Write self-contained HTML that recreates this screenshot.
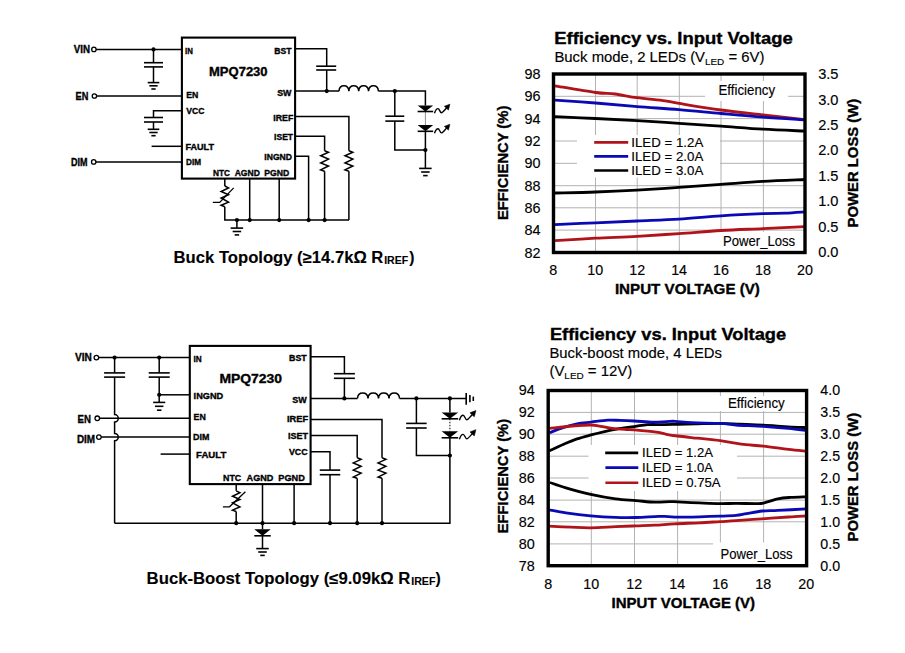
<!DOCTYPE html>
<html><head><meta charset="utf-8"><style>
html,body{margin:0;padding:0;background:#fff;}
svg{display:block;font-family:"Liberation Sans",sans-serif;}
</style></head><body>
<svg width="905" height="653" viewBox="0 0 905 653">
<rect x="0" y="0" width="905" height="653" fill="#fff"/>
<g id="sch1">
<rect x="181.9" y="37.6" width="113.2" height="141.0" fill="none" stroke="#000" stroke-width="2.1"/>
<text x="73.80" y="52.80" font-size="10.4" font-weight="bold" text-anchor="start" fill="#000" textLength="16.30" lengthAdjust="spacingAndGlyphs" stroke="#000" stroke-width="0.35">VIN</text>
<circle cx="93.90" cy="49.40" r="2.2" fill="#fff" stroke="#000" stroke-width="1.3"/>
<polyline points="96.10,49.40 181.90,49.40" fill="none" stroke="#000" stroke-width="1.5"/>
<circle cx="153.50" cy="49.40" r="2.1" fill="#000"/>
<polyline points="153.50,49.40 153.50,62.70" fill="none" stroke="#000" stroke-width="1.5"/>
<polyline points="144.00,62.70 163.00,62.70" fill="none" stroke="#000" stroke-width="1.6"/>
<polyline points="144.00,66.90 163.00,66.90" fill="none" stroke="#000" stroke-width="1.6"/>
<polyline points="153.50,66.90 153.50,82.60" fill="none" stroke="#000" stroke-width="1.5"/>
<polyline points="147.70,82.60 159.30,82.60" fill="none" stroke="#000" stroke-width="1.6"/>
<polyline points="149.35,85.80 157.65,85.80" fill="none" stroke="#000" stroke-width="1.6"/>
<polyline points="151.35,89.00 155.65,89.00" fill="none" stroke="#000" stroke-width="1.6"/>
<text x="75.50" y="99.60" font-size="10.4" font-weight="bold" text-anchor="start" fill="#000" textLength="12.80" lengthAdjust="spacingAndGlyphs" stroke="#000" stroke-width="0.35">EN</text>
<circle cx="94.40" cy="96.00" r="2.2" fill="#fff" stroke="#000" stroke-width="1.3"/>
<polyline points="96.60,96.00 181.90,96.00" fill="none" stroke="#000" stroke-width="1.5"/>
<polyline points="181.90,110.70 153.50,110.70 153.50,117.50" fill="none" stroke="#000" stroke-width="1.5"/>
<polyline points="144.00,117.50 163.00,117.50" fill="none" stroke="#000" stroke-width="1.6"/>
<polyline points="144.00,122.00 163.00,122.00" fill="none" stroke="#000" stroke-width="1.6"/>
<polyline points="153.50,122.00 153.50,129.30" fill="none" stroke="#000" stroke-width="1.5"/>
<polyline points="147.70,129.30 159.30,129.30" fill="none" stroke="#000" stroke-width="1.6"/>
<polyline points="149.35,132.50 157.65,132.50" fill="none" stroke="#000" stroke-width="1.6"/>
<polyline points="151.35,135.70 155.65,135.70" fill="none" stroke="#000" stroke-width="1.6"/>
<polyline points="151.60,146.30 181.90,146.30" fill="none" stroke="#000" stroke-width="1.5"/>
<text x="70.90" y="165.60" font-size="10.4" font-weight="bold" text-anchor="start" fill="#000" textLength="16.50" lengthAdjust="spacingAndGlyphs" stroke="#000" stroke-width="0.35">DIM</text>
<circle cx="93.70" cy="161.90" r="2.2" fill="#fff" stroke="#000" stroke-width="1.3"/>
<polyline points="95.90,161.90 181.90,161.90" fill="none" stroke="#000" stroke-width="1.5"/>
<text x="185.10" y="53.50" font-size="8.9" font-weight="bold" text-anchor="start" fill="#000" textLength="7.80" lengthAdjust="spacingAndGlyphs" stroke="#000" stroke-width="0.35">IN</text>
<text x="274.30" y="53.60" font-size="8.9" font-weight="bold" text-anchor="start" fill="#000" textLength="17.20" lengthAdjust="spacingAndGlyphs" stroke="#000" stroke-width="0.35">BST</text>
<text x="209.00" y="75.90" font-size="12.4" font-weight="bold" text-anchor="start" fill="#000" textLength="58.60" lengthAdjust="spacingAndGlyphs" stroke="#000" stroke-width="0.35">MPQ7230</text>
<text x="186.20" y="97.80" font-size="8.9" font-weight="bold" text-anchor="start" fill="#000" textLength="12.10" lengthAdjust="spacingAndGlyphs" stroke="#000" stroke-width="0.35">EN</text>
<text x="277.20" y="95.90" font-size="8.9" font-weight="bold" text-anchor="start" fill="#000" textLength="14.30" lengthAdjust="spacingAndGlyphs" stroke="#000" stroke-width="0.35">SW</text>
<text x="186.20" y="113.70" font-size="8.9" font-weight="bold" text-anchor="start" fill="#000" textLength="18.20" lengthAdjust="spacingAndGlyphs" stroke="#000" stroke-width="0.35">VCC</text>
<text x="273.30" y="120.80" font-size="8.9" font-weight="bold" text-anchor="start" fill="#000" textLength="20.10" lengthAdjust="spacingAndGlyphs" stroke="#000" stroke-width="0.35">IREF</text>
<text x="274.10" y="139.90" font-size="8.9" font-weight="bold" text-anchor="start" fill="#000" textLength="19.00" lengthAdjust="spacingAndGlyphs" stroke="#000" stroke-width="0.35">ISET</text>
<text x="185.40" y="149.80" font-size="8.9" font-weight="bold" text-anchor="start" fill="#000" textLength="28.60" lengthAdjust="spacingAndGlyphs" stroke="#000" stroke-width="0.35">FAULT</text>
<text x="264.30" y="160.10" font-size="8.9" font-weight="bold" text-anchor="start" fill="#000" textLength="27.70" lengthAdjust="spacingAndGlyphs" stroke="#000" stroke-width="0.35">INGND</text>
<text x="186.10" y="164.70" font-size="8.9" font-weight="bold" text-anchor="start" fill="#000" textLength="15.00" lengthAdjust="spacingAndGlyphs" stroke="#000" stroke-width="0.35">DIM</text>
<text x="213.00" y="175.70" font-size="8.9" font-weight="bold" text-anchor="start" fill="#000" textLength="17.00" lengthAdjust="spacingAndGlyphs" stroke="#000" stroke-width="0.35">NTC</text>
<text x="234.70" y="175.70" font-size="8.9" font-weight="bold" text-anchor="start" fill="#000" textLength="25.20" lengthAdjust="spacingAndGlyphs" stroke="#000" stroke-width="0.35">AGND</text>
<text x="264.30" y="175.70" font-size="8.9" font-weight="bold" text-anchor="start" fill="#000" textLength="25.00" lengthAdjust="spacingAndGlyphs" stroke="#000" stroke-width="0.35">PGND</text>
<polyline points="295.00,48.80 326.70,48.80 326.70,66.20" fill="none" stroke="#000" stroke-width="1.5"/>
<polyline points="316.20,66.20 336.20,66.20" fill="none" stroke="#000" stroke-width="1.6"/>
<polyline points="316.20,70.00 336.20,70.00" fill="none" stroke="#000" stroke-width="1.6"/>
<polyline points="326.70,70.00 326.70,91.10" fill="none" stroke="#000" stroke-width="1.5"/>
<polyline points="295.00,91.10 339.00,91.10" fill="none" stroke="#000" stroke-width="1.5"/>
<circle cx="326.70" cy="91.10" r="2.1" fill="#000"/>
<path d="M339.00,91.10 C339.50,84.05 348.35,84.05 348.85,91.10 C349.35,84.05 358.20,84.05 358.70,91.10 C359.20,84.05 368.05,84.05 368.55,91.10 C369.05,84.05 377.90,84.05 378.40,91.10" fill="none" stroke="#000" stroke-width="1.5"/>
<polyline points="378.40,91.10 425.40,91.10 425.40,105.40" fill="none" stroke="#000" stroke-width="1.5"/>
<circle cx="394.80" cy="91.10" r="2.1" fill="#000"/>
<polyline points="394.80,91.10 394.80,116.20" fill="none" stroke="#000" stroke-width="1.5"/>
<polyline points="385.30,116.20 404.30,116.20" fill="none" stroke="#000" stroke-width="1.6"/>
<polyline points="385.30,121.10 404.30,121.10" fill="none" stroke="#000" stroke-width="1.6"/>
<polyline points="394.80,121.10 394.80,150.00 425.40,150.00" fill="none" stroke="#000" stroke-width="1.5"/>
<polygon points="417.65,105.40 433.15,105.40 425.40,111.50" fill="#000"/>
<polyline points="417.65,111.50 433.15,111.50" fill="none" stroke="#000" stroke-width="1.6"/>
<polygon points="417.65,125.10 433.15,125.10 425.40,131.30" fill="#000"/>
<polyline points="417.65,131.30 433.15,131.30" fill="none" stroke="#000" stroke-width="1.6"/>
<polyline points="425.40,111.50 425.40,125.10" fill="none" stroke="#000" stroke-width="0.9" stroke-dasharray="1,1"/>
<polyline points="425.40,131.30 425.40,168.40" fill="none" stroke="#000" stroke-width="1.5"/>
<circle cx="425.40" cy="150.00" r="2.1" fill="#000"/>
<polyline points="419.15,168.40 431.65,168.40" fill="none" stroke="#000" stroke-width="1.6"/>
<polyline points="421.15,172.00 429.65,172.00" fill="none" stroke="#000" stroke-width="1.6"/>
<polyline points="423.15,175.60 427.65,175.60" fill="none" stroke="#000" stroke-width="1.6"/>
<path d="M434.50,113.20 C435.50,110.20 436.70,108.60 438.00,108.60 C439.50,108.60 439.90,112.80 441.50,112.80 C442.50,112.80 443.50,111.40 446.70,107.80" fill="none" stroke="#000" stroke-width="1.4"/>
<polygon points="449.90,104.20 448.40,110.00 444.40,106.30" fill="#000" stroke="#000" stroke-width="0.6" stroke-linejoin="round"/>
<path d="M434.50,133.30 C435.50,130.30 436.70,128.70 438.00,128.70 C439.50,128.70 439.90,132.90 441.50,132.90 C442.50,132.90 443.50,131.50 446.70,127.90" fill="none" stroke="#000" stroke-width="1.4"/>
<polygon points="449.90,124.30 448.40,130.10 444.40,126.40" fill="#000" stroke="#000" stroke-width="0.6" stroke-linejoin="round"/>
<polyline points="295.00,116.40 348.90,116.40 348.90,150.70" fill="none" stroke="#000" stroke-width="1.5"/>
<polyline points="348.90,150.70 352.80,152.30 345.00,155.80 352.80,159.10 345.00,163.00 352.80,166.00 345.00,169.90 348.90,171.20" fill="none" stroke="#000" stroke-width="1.5"/>
<polyline points="348.90,171.20 348.90,220.10" fill="none" stroke="#000" stroke-width="1.5"/>
<polyline points="295.00,136.30 324.60,136.30 324.60,150.70" fill="none" stroke="#000" stroke-width="1.5"/>
<polyline points="324.60,150.70 328.50,152.30 320.70,155.80 328.50,159.10 320.70,163.00 328.50,166.00 320.70,169.90 324.60,171.20" fill="none" stroke="#000" stroke-width="1.5"/>
<polyline points="324.60,171.20 324.60,220.10" fill="none" stroke="#000" stroke-width="1.5"/>
<polyline points="295.00,156.20 308.60,156.20 308.60,220.10" fill="none" stroke="#000" stroke-width="1.5"/>
<polyline points="224.80,178.30 224.80,186.00" fill="none" stroke="#000" stroke-width="1.5"/>
<polyline points="224.80,186.00 228.50,187.90 221.10,191.50 228.50,194.80 221.10,198.00 228.50,202.10 221.10,205.30 224.80,206.70" fill="none" stroke="#000" stroke-width="1.5"/>
<polyline points="224.80,206.70 224.80,220.10 349.00,220.10" fill="none" stroke="#000" stroke-width="1.5"/>
<polyline points="212.80,202.40 219.70,202.40 233.70,187.90" fill="none" stroke="#000" stroke-width="1.3"/>
<polyline points="249.70,178.30 249.70,220.10" fill="none" stroke="#000" stroke-width="1.5"/>
<polyline points="279.20,178.30 279.20,220.10" fill="none" stroke="#000" stroke-width="1.5"/>
<circle cx="236.90" cy="220.10" r="2.1" fill="#000"/>
<circle cx="249.70" cy="220.10" r="2.1" fill="#000"/>
<circle cx="279.20" cy="220.10" r="2.1" fill="#000"/>
<circle cx="308.60" cy="220.10" r="2.1" fill="#000"/>
<circle cx="324.60" cy="220.10" r="2.1" fill="#000"/>
<polyline points="236.90,220.10 236.90,228.10" fill="none" stroke="#000" stroke-width="1.5"/>
<polyline points="230.65,228.10 243.15,228.10" fill="none" stroke="#000" stroke-width="1.6"/>
<polyline points="232.65,231.50 241.15,231.50" fill="none" stroke="#000" stroke-width="1.6"/>
<polyline points="234.65,234.90 239.15,234.90" fill="none" stroke="#000" stroke-width="1.6"/>
</g>
<text x="173.60" y="262.90" font-size="15.6" font-weight="bold" text-anchor="start" fill="#000" textLength="209.80" lengthAdjust="spacingAndGlyphs" stroke="#000" stroke-width="0.1">Buck Topology (≥14.7kΩ R</text>
<text x="384.20" y="264.00" font-size="10.6" font-weight="bold" text-anchor="start" fill="#000" textLength="24.00" lengthAdjust="spacingAndGlyphs" stroke="#000" stroke-width="0.1">IREF</text>
<text transform="translate(409.20,262.90) scale(1.0,1)" font-size="15.6" font-weight="bold" text-anchor="start" fill="#000" stroke="#000" stroke-width="0.1">)</text>
<g id="sch2">
<rect x="189.8" y="345.9" width="120.8" height="138.2" fill="none" stroke="#000" stroke-width="2.1"/>
<text x="74.90" y="361.40" font-size="10.8" font-weight="bold" text-anchor="start" fill="#000" textLength="16.90" lengthAdjust="spacingAndGlyphs" stroke="#000" stroke-width="0.35">VIN</text>
<circle cx="96.40" cy="357.60" r="2.3" fill="#fff" stroke="#000" stroke-width="1.3"/>
<polyline points="98.70,357.60 189.80,357.60" fill="none" stroke="#000" stroke-width="1.5"/>
<circle cx="114.60" cy="357.60" r="2.1" fill="#000"/>
<circle cx="159.20" cy="357.60" r="2.1" fill="#000"/>
<polyline points="114.60,357.60 114.60,372.90" fill="none" stroke="#000" stroke-width="1.5"/>
<polyline points="104.10,372.90 125.10,372.90" fill="none" stroke="#000" stroke-width="1.6"/>
<polyline points="104.10,377.10 125.10,377.10" fill="none" stroke="#000" stroke-width="1.6"/>
<polyline points="159.20,357.60 159.20,372.90" fill="none" stroke="#000" stroke-width="1.5"/>
<polyline points="148.70,372.90 169.70,372.90" fill="none" stroke="#000" stroke-width="1.6"/>
<polyline points="148.70,377.10 169.70,377.10" fill="none" stroke="#000" stroke-width="1.6"/>
<polyline points="159.20,377.10 159.20,402.40" fill="none" stroke="#000" stroke-width="1.5"/>
<circle cx="159.20" cy="394.80" r="2.1" fill="#000"/>
<polyline points="159.20,394.80 189.80,394.80" fill="none" stroke="#000" stroke-width="1.5"/>
<polyline points="153.15,402.40 165.25,402.40" fill="none" stroke="#000" stroke-width="1.6"/>
<polyline points="154.95,406.30 163.45,406.30" fill="none" stroke="#000" stroke-width="1.6"/>
<polyline points="156.95,410.20 161.45,410.20" fill="none" stroke="#000" stroke-width="1.6"/>
<path d="M114.6,377.1 L114.6,414.6 A3.7,3.7 0 0 1 114.6,422.0 L114.6,433.4 A3.7,3.7 0 0 1 114.6,440.8 L114.6,523.2" fill="none" stroke="#000" stroke-width="1.5"/>
<text x="77.60" y="423.00" font-size="10.8" font-weight="bold" text-anchor="start" fill="#000" textLength="13.40" lengthAdjust="spacingAndGlyphs" stroke="#000" stroke-width="0.35">EN</text>
<circle cx="97.30" cy="418.30" r="2.3" fill="#fff" stroke="#000" stroke-width="1.3"/>
<polyline points="99.60,418.30 189.80,418.30" fill="none" stroke="#000" stroke-width="1.5"/>
<text x="76.90" y="442.80" font-size="10.8" font-weight="bold" text-anchor="start" fill="#000" textLength="18.20" lengthAdjust="spacingAndGlyphs" stroke="#000" stroke-width="0.35">DIM</text>
<circle cx="98.90" cy="437.10" r="2.3" fill="#fff" stroke="#000" stroke-width="1.3"/>
<polyline points="101.20,437.10 189.80,437.10" fill="none" stroke="#000" stroke-width="1.5"/>
<polyline points="160.60,454.10 189.80,454.10" fill="none" stroke="#000" stroke-width="1.5"/>
<text x="193.60" y="361.80" font-size="9.4" font-weight="bold" text-anchor="start" fill="#000" textLength="8.20" lengthAdjust="spacingAndGlyphs" stroke="#000" stroke-width="0.35">IN</text>
<text x="219.40" y="383.00" font-size="13.2" font-weight="bold" text-anchor="start" fill="#000" textLength="62.70" lengthAdjust="spacingAndGlyphs" stroke="#000" stroke-width="0.35">MPQ7230</text>
<text x="193.60" y="398.90" font-size="9.4" font-weight="bold" text-anchor="start" fill="#000" textLength="29.60" lengthAdjust="spacingAndGlyphs" stroke="#000" stroke-width="0.35">INGND</text>
<text x="193.60" y="419.80" font-size="9.4" font-weight="bold" text-anchor="start" fill="#000" textLength="12.20" lengthAdjust="spacingAndGlyphs" stroke="#000" stroke-width="0.35">EN</text>
<text x="193.10" y="439.60" font-size="9.4" font-weight="bold" text-anchor="start" fill="#000" textLength="16.30" lengthAdjust="spacingAndGlyphs" stroke="#000" stroke-width="0.35">DIM</text>
<text x="196.10" y="457.80" font-size="9.4" font-weight="bold" text-anchor="start" fill="#000" textLength="30.20" lengthAdjust="spacingAndGlyphs" stroke="#000" stroke-width="0.35">FAULT</text>
<text x="289.10" y="361.10" font-size="9.4" font-weight="bold" text-anchor="start" fill="#000" textLength="17.60" lengthAdjust="spacingAndGlyphs" stroke="#000" stroke-width="0.35">BST</text>
<text x="292.20" y="402.80" font-size="9.4" font-weight="bold" text-anchor="start" fill="#000" textLength="14.50" lengthAdjust="spacingAndGlyphs" stroke="#000" stroke-width="0.35">SW</text>
<text x="286.90" y="422.10" font-size="9.4" font-weight="bold" text-anchor="start" fill="#000" textLength="21.20" lengthAdjust="spacingAndGlyphs" stroke="#000" stroke-width="0.35">IREF</text>
<text x="288.10" y="438.90" font-size="9.4" font-weight="bold" text-anchor="start" fill="#000" textLength="20.00" lengthAdjust="spacingAndGlyphs" stroke="#000" stroke-width="0.35">ISET</text>
<text x="288.90" y="454.90" font-size="9.4" font-weight="bold" text-anchor="start" fill="#000" textLength="18.70" lengthAdjust="spacingAndGlyphs" stroke="#000" stroke-width="0.35">VCC</text>
<text x="223.00" y="480.80" font-size="9.4" font-weight="bold" text-anchor="start" fill="#000" textLength="18.20" lengthAdjust="spacingAndGlyphs" stroke="#000" stroke-width="0.35">NTC</text>
<text x="246.60" y="480.80" font-size="9.4" font-weight="bold" text-anchor="start" fill="#000" textLength="26.80" lengthAdjust="spacingAndGlyphs" stroke="#000" stroke-width="0.35">AGND</text>
<text x="278.30" y="480.80" font-size="9.4" font-weight="bold" text-anchor="start" fill="#000" textLength="26.50" lengthAdjust="spacingAndGlyphs" stroke="#000" stroke-width="0.35">PGND</text>
<polyline points="310.60,356.80 344.40,356.80 344.40,373.70" fill="none" stroke="#000" stroke-width="1.5"/>
<polyline points="333.90,373.70 354.90,373.70" fill="none" stroke="#000" stroke-width="1.6"/>
<polyline points="333.90,378.30 354.90,378.30" fill="none" stroke="#000" stroke-width="1.6"/>
<polyline points="344.40,378.30 344.40,398.40" fill="none" stroke="#000" stroke-width="1.5"/>
<polyline points="310.60,398.40 357.50,398.40" fill="none" stroke="#000" stroke-width="1.5"/>
<circle cx="344.40" cy="398.40" r="2.1" fill="#000"/>
<path d="M357.50,398.40 C358.00,391.35 367.50,391.35 368.00,398.40 C368.50,391.35 378.00,391.35 378.50,398.40 C379.00,391.35 388.50,391.35 389.00,398.40 C389.50,391.35 399.00,391.35 399.50,398.40" fill="none" stroke="#000" stroke-width="1.5"/>
<polyline points="399.50,398.40 466.20,398.40" fill="none" stroke="#000" stroke-width="1.5"/>
<circle cx="416.40" cy="398.40" r="2.1" fill="#000"/>
<circle cx="449.90" cy="398.40" r="2.1" fill="#000"/>
<polyline points="466.20,393.10 466.20,404.80" fill="none" stroke="#000" stroke-width="1.6"/>
<polyline points="469.90,395.00 469.90,402.20" fill="none" stroke="#000" stroke-width="1.6"/>
<polyline points="473.30,396.60 473.30,401.00" fill="none" stroke="#000" stroke-width="1.6"/>
<polyline points="416.40,398.40 416.40,423.40" fill="none" stroke="#000" stroke-width="1.5"/>
<polyline points="406.15,423.40 426.65,423.40" fill="none" stroke="#000" stroke-width="1.6"/>
<polyline points="406.15,428.00 426.65,428.00" fill="none" stroke="#000" stroke-width="1.6"/>
<polyline points="416.40,428.00 416.40,455.50 449.90,455.50" fill="none" stroke="#000" stroke-width="1.5"/>
<circle cx="449.90" cy="455.50" r="2.1" fill="#000"/>
<polyline points="449.90,398.40 449.90,412.40" fill="none" stroke="#000" stroke-width="1.5"/>
<polygon points="441.65,412.40 458.15,412.40 449.90,418.80" fill="#000"/>
<polyline points="441.65,418.80 458.15,418.80" fill="none" stroke="#000" stroke-width="1.6"/>
<polygon points="441.65,431.30 458.15,431.30 449.90,437.80" fill="#000"/>
<polyline points="441.65,437.80 458.15,437.80" fill="none" stroke="#000" stroke-width="1.6"/>
<polyline points="449.90,418.80 449.90,431.30" fill="none" stroke="#000" stroke-width="1.0" stroke-dasharray="1.5,1.5"/>
<polyline points="449.90,437.80 449.90,523.20 114.60,523.20" fill="none" stroke="#000" stroke-width="1.5"/>
<path d="M459.40,420.20 C460.47,416.99 461.75,415.28 463.14,415.28 C464.75,415.28 465.18,419.77 466.89,419.77 C467.96,419.77 469.03,418.27 472.45,414.42" fill="none" stroke="#000" stroke-width="1.4"/>
<polygon points="475.88,410.57 474.27,416.78 469.99,412.82" fill="#000" stroke="#000" stroke-width="0.6" stroke-linejoin="round"/>
<path d="M459.40,439.30 C460.47,436.09 461.75,434.38 463.14,434.38 C464.75,434.38 465.18,438.87 466.89,438.87 C467.96,438.87 469.03,437.37 472.45,433.52" fill="none" stroke="#000" stroke-width="1.4"/>
<polygon points="475.88,429.67 474.27,435.88 469.99,431.92" fill="#000" stroke="#000" stroke-width="0.6" stroke-linejoin="round"/>
<polyline points="310.60,419.60 382.00,419.60 382.00,457.80" fill="none" stroke="#000" stroke-width="1.5"/>
<polyline points="382.00,457.80 385.90,459.40 378.10,462.90 385.90,466.20 378.10,470.10 385.90,473.10 378.10,477.00 382.00,478.30" fill="none" stroke="#000" stroke-width="1.5"/>
<polyline points="382.00,478.30 382.00,523.20" fill="none" stroke="#000" stroke-width="1.5"/>
<polyline points="310.60,435.50 357.20,435.50 357.20,457.80" fill="none" stroke="#000" stroke-width="1.5"/>
<polyline points="357.20,457.80 361.10,459.40 353.30,462.90 361.10,466.20 353.30,470.10 361.10,473.10 353.30,477.00 357.20,478.30" fill="none" stroke="#000" stroke-width="1.5"/>
<polyline points="357.20,478.30 357.20,523.20" fill="none" stroke="#000" stroke-width="1.5"/>
<polyline points="310.60,451.70 330.00,451.70 330.00,470.10" fill="none" stroke="#000" stroke-width="1.5"/>
<polyline points="319.75,470.10 340.25,470.10" fill="none" stroke="#000" stroke-width="1.6"/>
<polyline points="319.75,474.70 340.25,474.70" fill="none" stroke="#000" stroke-width="1.6"/>
<polyline points="330.00,474.70 330.00,523.20" fill="none" stroke="#000" stroke-width="1.5"/>
<polyline points="236.20,483.70 236.20,490.80" fill="none" stroke="#000" stroke-width="1.5"/>
<polyline points="236.20,490.80 239.90,492.70 232.50,496.30 239.90,499.60 232.50,502.80 239.90,506.90 232.50,510.10 236.20,511.50" fill="none" stroke="#000" stroke-width="1.5"/>
<polyline points="236.20,511.50 236.20,523.20" fill="none" stroke="#000" stroke-width="1.5"/>
<polyline points="222.90,506.80 229.50,506.80 245.40,491.80" fill="none" stroke="#000" stroke-width="1.3"/>
<polyline points="262.50,483.70 262.50,529.40" fill="none" stroke="#000" stroke-width="1.5"/>
<polyline points="294.10,483.70 294.10,523.20" fill="none" stroke="#000" stroke-width="1.5"/>
<circle cx="236.20" cy="523.20" r="2.1" fill="#000"/>
<circle cx="262.50" cy="523.20" r="2.1" fill="#000"/>
<circle cx="294.10" cy="523.20" r="2.1" fill="#000"/>
<circle cx="330.00" cy="523.20" r="2.1" fill="#000"/>
<circle cx="357.20" cy="523.20" r="2.1" fill="#000"/>
<circle cx="382.00" cy="523.20" r="2.1" fill="#000"/>
<polygon points="254.25,529.20 270.75,529.20 262.50,535.80" fill="#000"/>
<polyline points="254.25,535.80 270.75,535.80" fill="none" stroke="#000" stroke-width="1.6"/>
<polyline points="262.50,535.80 262.50,548.60" fill="none" stroke="#000" stroke-width="1.5"/>
<polyline points="256.25,548.60 268.75,548.60" fill="none" stroke="#000" stroke-width="1.6"/>
<polyline points="258.25,552.00 266.75,552.00" fill="none" stroke="#000" stroke-width="1.6"/>
<polyline points="260.25,555.40 264.75,555.40" fill="none" stroke="#000" stroke-width="1.6"/>
</g>
<text x="146.60" y="583.60" font-size="15.8" font-weight="bold" text-anchor="start" fill="#000" textLength="263.80" lengthAdjust="spacingAndGlyphs" stroke="#000" stroke-width="0.1">Buck-Boost Topology (≤9.09kΩ R</text>
<text x="411.20" y="585.00" font-size="10.8" font-weight="bold" text-anchor="start" fill="#000" textLength="24.30" lengthAdjust="spacingAndGlyphs" stroke="#000" stroke-width="0.1">IREF</text>
<text transform="translate(435.60,583.60) scale(1.0,1)" font-size="15.8" font-weight="bold" text-anchor="start" fill="#000" stroke="#000" stroke-width="0.1">)</text>
<g>
<polyline points="595.50,74.00 595.50,252.50" fill="none" stroke="#b2b2b2" stroke-width="1.0"/>
<polyline points="637.20,74.00 637.20,252.50" fill="none" stroke="#b2b2b2" stroke-width="1.0"/>
<polyline points="679.30,74.00 679.30,252.50" fill="none" stroke="#b2b2b2" stroke-width="1.0"/>
<polyline points="721.00,74.00 721.00,252.50" fill="none" stroke="#b2b2b2" stroke-width="1.0"/>
<polyline points="763.40,74.00 763.40,252.50" fill="none" stroke="#b2b2b2" stroke-width="1.0"/>
<polyline points="553.50,96.30 805.00,96.30" fill="none" stroke="#b2b2b2" stroke-width="1.0"/>
<polyline points="553.50,118.60 805.00,118.60" fill="none" stroke="#b2b2b2" stroke-width="1.0"/>
<polyline points="553.50,141.00 805.00,141.00" fill="none" stroke="#b2b2b2" stroke-width="1.0"/>
<polyline points="553.50,163.30 805.00,163.30" fill="none" stroke="#b2b2b2" stroke-width="1.0"/>
<polyline points="553.50,185.70 805.00,185.70" fill="none" stroke="#b2b2b2" stroke-width="1.0"/>
<polyline points="553.50,207.80 805.00,207.80" fill="none" stroke="#b2b2b2" stroke-width="1.0"/>
<polyline points="553.50,230.10 805.00,230.10" fill="none" stroke="#b2b2b2" stroke-width="1.0"/>
<rect x="577" y="135" width="143" height="42.5" fill="#fff"/>
<rect x="705" y="81" width="83" height="20" fill="#fff"/>
<rect x="715" y="232" width="88" height="19" fill="#fff"/>
<path d="M555.00,85.80 C561.75,86.92 585.50,91.13 595.50,92.50 C605.50,93.87 608.08,93.13 615.00,94.00 C621.92,94.87 628.67,96.55 637.00,97.70 C645.33,98.85 658.00,99.95 665.00,100.90 C672.00,101.85 669.67,101.88 679.00,103.40 C688.33,104.92 707.00,108.07 721.00,110.00 C735.00,111.93 749.00,113.40 763.00,115.00 C777.00,116.60 798.00,118.83 805.00,119.60" fill="none" stroke="#b0141a" stroke-width="2.8" stroke-linejoin="round" stroke-linecap="butt"/>
<path d="M555.00,100.10 C561.75,100.58 581.83,101.92 595.50,103.00 C609.17,104.08 623.08,105.50 637.00,106.60 C650.92,107.70 665.00,108.45 679.00,109.60 C693.00,110.75 707.00,112.25 721.00,113.50 C735.00,114.75 749.00,116.05 763.00,117.10 C777.00,118.15 798.00,119.35 805.00,119.80" fill="none" stroke="#0a0ab4" stroke-width="2.8" stroke-linejoin="round" stroke-linecap="butt"/>
<path d="M555.00,116.70 C561.75,117.00 581.83,117.83 595.50,118.50 C609.17,119.17 623.08,119.90 637.00,120.70 C650.92,121.50 665.00,122.38 679.00,123.30 C693.00,124.22 707.00,125.22 721.00,126.20 C735.00,127.18 749.00,128.38 763.00,129.20 C777.00,130.02 798.00,130.78 805.00,131.10" fill="none" stroke="#000" stroke-width="2.8" stroke-linejoin="round" stroke-linecap="butt"/>
<path d="M555.00,193.00 C561.75,192.83 581.83,192.48 595.50,192.00 C609.17,191.52 623.08,190.87 637.00,190.10 C650.92,189.33 665.00,188.35 679.00,187.40 C693.00,186.45 707.00,185.40 721.00,184.40 C735.00,183.40 749.00,182.22 763.00,181.40 C777.00,180.58 798.00,179.82 805.00,179.50" fill="none" stroke="#000" stroke-width="2.8" stroke-linejoin="round" stroke-linecap="butt"/>
<path d="M555.00,224.60 C561.75,224.30 581.83,223.40 595.50,222.80 C609.17,222.20 623.08,221.60 637.00,221.00 C650.92,220.40 665.00,220.05 679.00,219.20 C693.00,218.35 707.00,216.82 721.00,215.90 C735.00,214.98 752.33,214.15 763.00,213.70 C773.67,213.25 778.00,213.50 785.00,213.20 C792.00,212.90 801.67,212.12 805.00,211.90" fill="none" stroke="#0a0ab4" stroke-width="2.8" stroke-linejoin="round" stroke-linecap="butt"/>
<path d="M555.00,240.70 C561.75,240.28 581.83,238.93 595.50,238.20 C609.17,237.47 623.08,237.07 637.00,236.30 C650.92,235.53 665.00,234.57 679.00,233.60 C693.00,232.63 707.00,231.33 721.00,230.50 C735.00,229.67 749.00,229.25 763.00,228.60 C777.00,227.95 798.00,226.93 805.00,226.60" fill="none" stroke="#b0141a" stroke-width="2.8" stroke-linejoin="round" stroke-linecap="butt"/>
<rect x="553.50" y="74.00" width="251.50" height="178.50" fill="none" stroke="#000" stroke-width="3.4"/>
</g>
<text x="554.20" y="43.70" font-size="16.9" font-weight="bold" text-anchor="start" fill="#000" textLength="238.60" lengthAdjust="spacingAndGlyphs" stroke="#000" stroke-width="0.35">Efficiency vs. Input Voltage</text>
<text transform="translate(554.4,61.6) scale(1.042,1)" font-size="14.3" fill="#000" stroke="#000" stroke-width="0.15">Buck mode, 2 LEDs (V<tspan font-size="9.5" dy="3.1">LED</tspan><tspan dy="-3.1"> = 6V)</tspan></text>
<text x="540.60" y="79.20" font-size="14.4" font-weight="normal" text-anchor="end" fill="#000" textLength="16.00" lengthAdjust="spacingAndGlyphs" stroke="#000" stroke-width="0.15">98</text>
<text x="540.60" y="101.49" font-size="14.4" font-weight="normal" text-anchor="end" fill="#000" textLength="16.00" lengthAdjust="spacingAndGlyphs" stroke="#000" stroke-width="0.15">96</text>
<text x="540.60" y="123.78" font-size="14.4" font-weight="normal" text-anchor="end" fill="#000" textLength="16.00" lengthAdjust="spacingAndGlyphs" stroke="#000" stroke-width="0.15">94</text>
<text x="540.60" y="146.06" font-size="14.4" font-weight="normal" text-anchor="end" fill="#000" textLength="16.00" lengthAdjust="spacingAndGlyphs" stroke="#000" stroke-width="0.15">92</text>
<text x="540.60" y="168.35" font-size="14.4" font-weight="normal" text-anchor="end" fill="#000" textLength="16.00" lengthAdjust="spacingAndGlyphs" stroke="#000" stroke-width="0.15">90</text>
<text x="540.60" y="190.64" font-size="14.4" font-weight="normal" text-anchor="end" fill="#000" textLength="16.00" lengthAdjust="spacingAndGlyphs" stroke="#000" stroke-width="0.15">88</text>
<text x="540.60" y="212.93" font-size="14.4" font-weight="normal" text-anchor="end" fill="#000" textLength="16.00" lengthAdjust="spacingAndGlyphs" stroke="#000" stroke-width="0.15">86</text>
<text x="540.60" y="235.21" font-size="14.4" font-weight="normal" text-anchor="end" fill="#000" textLength="16.00" lengthAdjust="spacingAndGlyphs" stroke="#000" stroke-width="0.15">84</text>
<text x="540.60" y="257.50" font-size="14.4" font-weight="normal" text-anchor="end" fill="#000" textLength="16.00" lengthAdjust="spacingAndGlyphs" stroke="#000" stroke-width="0.15">82</text>
<text x="818.20" y="79.10" font-size="14.4" font-weight="normal" text-anchor="start" fill="#000" textLength="20.30" lengthAdjust="spacingAndGlyphs" stroke="#000" stroke-width="0.15">3.5</text>
<text x="818.20" y="104.55" font-size="14.4" font-weight="normal" text-anchor="start" fill="#000" textLength="20.30" lengthAdjust="spacingAndGlyphs" stroke="#000" stroke-width="0.15">3.0</text>
<text x="818.20" y="130.00" font-size="14.4" font-weight="normal" text-anchor="start" fill="#000" textLength="20.30" lengthAdjust="spacingAndGlyphs" stroke="#000" stroke-width="0.15">2.5</text>
<text x="818.20" y="155.45" font-size="14.4" font-weight="normal" text-anchor="start" fill="#000" textLength="20.30" lengthAdjust="spacingAndGlyphs" stroke="#000" stroke-width="0.15">2.0</text>
<text x="818.20" y="180.90" font-size="14.4" font-weight="normal" text-anchor="start" fill="#000" textLength="20.30" lengthAdjust="spacingAndGlyphs" stroke="#000" stroke-width="0.15">1.5</text>
<text x="818.20" y="206.35" font-size="14.4" font-weight="normal" text-anchor="start" fill="#000" textLength="20.30" lengthAdjust="spacingAndGlyphs" stroke="#000" stroke-width="0.15">1.0</text>
<text x="818.20" y="231.80" font-size="14.4" font-weight="normal" text-anchor="start" fill="#000" textLength="20.30" lengthAdjust="spacingAndGlyphs" stroke="#000" stroke-width="0.15">0.5</text>
<text x="818.20" y="257.25" font-size="14.4" font-weight="normal" text-anchor="start" fill="#000" textLength="20.30" lengthAdjust="spacingAndGlyphs" stroke="#000" stroke-width="0.15">0.0</text>
<text x="553.30" y="274.70" font-size="14.4" font-weight="normal" text-anchor="middle" fill="#000" textLength="8.00" lengthAdjust="spacingAndGlyphs" stroke="#000" stroke-width="0.15">8</text>
<text x="595.23" y="274.70" font-size="14.4" font-weight="normal" text-anchor="middle" fill="#000" textLength="15.90" lengthAdjust="spacingAndGlyphs" stroke="#000" stroke-width="0.15">10</text>
<text x="637.17" y="274.70" font-size="14.4" font-weight="normal" text-anchor="middle" fill="#000" textLength="15.90" lengthAdjust="spacingAndGlyphs" stroke="#000" stroke-width="0.15">12</text>
<text x="679.10" y="274.70" font-size="14.4" font-weight="normal" text-anchor="middle" fill="#000" textLength="15.90" lengthAdjust="spacingAndGlyphs" stroke="#000" stroke-width="0.15">14</text>
<text x="721.03" y="274.70" font-size="14.4" font-weight="normal" text-anchor="middle" fill="#000" textLength="15.90" lengthAdjust="spacingAndGlyphs" stroke="#000" stroke-width="0.15">16</text>
<text x="762.97" y="274.70" font-size="14.4" font-weight="normal" text-anchor="middle" fill="#000" textLength="15.90" lengthAdjust="spacingAndGlyphs" stroke="#000" stroke-width="0.15">18</text>
<text x="804.90" y="274.70" font-size="14.4" font-weight="normal" text-anchor="middle" fill="#000" textLength="15.90" lengthAdjust="spacingAndGlyphs" stroke="#000" stroke-width="0.15">20</text>
<text x="614.90" y="293.90" font-size="14.2" font-weight="bold" text-anchor="start" fill="#000" textLength="145.00" lengthAdjust="spacingAndGlyphs" stroke="#000" stroke-width="0.35">INPUT VOLTAGE (V)</text>
<text transform="translate(508.40,220.10) rotate(-90)" font-size="14.6" font-weight="bold" fill="#000" stroke="#000" stroke-width="0.35" textLength="114.40" lengthAdjust="spacingAndGlyphs">EFFICIENCY (%)</text>
<text transform="translate(857.60,227.40) rotate(-90)" font-size="14.6" font-weight="bold" fill="#000" stroke="#000" stroke-width="0.35" textLength="128.60" lengthAdjust="spacingAndGlyphs">POWER LOSS (W)</text>
<text x="631.30" y="146.90" font-size="13.2" font-weight="normal" text-anchor="start" fill="#000" textLength="72.00" lengthAdjust="spacingAndGlyphs" stroke="#000" stroke-width="0.15">ILED = 1.2A</text>
<text x="631.30" y="160.90" font-size="13.2" font-weight="normal" text-anchor="start" fill="#000" textLength="72.00" lengthAdjust="spacingAndGlyphs" stroke="#000" stroke-width="0.15">ILED = 2.0A</text>
<text x="631.30" y="174.80" font-size="13.2" font-weight="normal" text-anchor="start" fill="#000" textLength="72.00" lengthAdjust="spacingAndGlyphs" stroke="#000" stroke-width="0.15">ILED = 3.0A</text>
<polyline points="594.20,142.40 628.20,142.40" fill="none" stroke="#b0141a" stroke-width="2.6"/>
<polyline points="594.20,156.40 628.20,156.40" fill="none" stroke="#0a0ab4" stroke-width="2.6"/>
<polyline points="594.20,170.50 628.20,170.50" fill="none" stroke="#000" stroke-width="2.6"/>
<text x="718.50" y="94.80" font-size="14.0" font-weight="normal" text-anchor="start" fill="#000" textLength="56.60" lengthAdjust="spacingAndGlyphs" stroke="#000" stroke-width="0.15">Efficiency</text>
<text x="722.90" y="245.80" font-size="14.0" font-weight="normal" text-anchor="start" fill="#000" textLength="72.30" lengthAdjust="spacingAndGlyphs" stroke="#000" stroke-width="0.15">Power_Loss</text>
<g>
<polyline points="591.30,390.50 591.30,565.70" fill="none" stroke="#b2b2b2" stroke-width="1.0"/>
<polyline points="634.50,390.50 634.50,565.70" fill="none" stroke="#b2b2b2" stroke-width="1.0"/>
<polyline points="677.60,390.50 677.60,565.70" fill="none" stroke="#b2b2b2" stroke-width="1.0"/>
<polyline points="720.40,390.50 720.40,565.70" fill="none" stroke="#b2b2b2" stroke-width="1.0"/>
<polyline points="763.60,390.50 763.60,565.70" fill="none" stroke="#b2b2b2" stroke-width="1.0"/>
<polyline points="548.20,412.40 806.60,412.40" fill="none" stroke="#b2b2b2" stroke-width="1.0"/>
<polyline points="548.20,434.20 806.60,434.20" fill="none" stroke="#b2b2b2" stroke-width="1.0"/>
<polyline points="548.20,456.20 806.60,456.20" fill="none" stroke="#b2b2b2" stroke-width="1.0"/>
<polyline points="548.20,478.00 806.60,478.00" fill="none" stroke="#b2b2b2" stroke-width="1.0"/>
<polyline points="548.20,500.10 806.60,500.10" fill="none" stroke="#b2b2b2" stroke-width="1.0"/>
<polyline points="548.20,521.80 806.60,521.80" fill="none" stroke="#b2b2b2" stroke-width="1.0"/>
<polyline points="548.20,543.90 806.60,543.90" fill="none" stroke="#b2b2b2" stroke-width="1.0"/>
<rect x="588.5" y="445" width="148.5" height="46" fill="#fff"/>
<rect x="714" y="396" width="82" height="15" fill="#fff"/>
<rect x="713" y="542.5" width="92" height="21.5" fill="#fff"/>
<path d="M549.50,450.80 C551.87,449.70 559.12,446.18 563.70,444.20 C568.28,442.22 572.43,440.45 577.00,438.90 C581.57,437.35 586.68,436.08 591.10,434.90 C595.52,433.72 599.23,432.77 603.50,431.80 C607.77,430.83 611.55,429.97 616.70,429.10 C621.85,428.23 629.25,427.35 634.40,426.60 C639.55,425.85 642.63,424.93 647.60,424.60 C652.57,424.27 659.22,424.65 664.20,424.60 C669.18,424.55 671.98,424.43 677.50,424.30 C683.02,424.17 690.22,423.95 697.30,423.80 C704.38,423.65 712.88,423.33 720.00,423.40 C727.12,423.47 732.78,423.90 740.00,424.20 C747.22,424.50 755.22,424.77 763.30,425.20 C771.38,425.63 781.33,426.40 788.50,426.80 C795.67,427.20 803.33,427.47 806.30,427.60" fill="none" stroke="#000" stroke-width="2.8" stroke-linejoin="round" stroke-linecap="butt"/>
<path d="M549.50,432.70 C551.87,431.82 559.12,428.88 563.70,427.40 C568.28,425.92 572.43,424.68 577.00,423.80 C581.57,422.92 585.95,422.70 591.10,422.10 C596.25,421.50 603.08,420.48 607.90,420.20 C612.72,419.92 615.58,420.27 620.00,420.40 C624.42,420.53 628.88,420.70 634.40,421.00 C639.92,421.30 647.77,422.10 653.10,422.20 C658.43,422.30 662.72,421.75 666.40,421.60 C670.08,421.45 670.97,421.12 675.20,421.30 C679.43,421.48 684.30,422.35 691.80,422.70 C699.30,423.05 712.83,423.02 720.20,423.40 C727.57,423.78 728.82,424.52 736.00,425.00 C743.18,425.48 754.55,425.73 763.30,426.30 C772.05,426.87 781.33,427.70 788.50,428.40 C795.67,429.10 803.33,430.15 806.30,430.50" fill="none" stroke="#0a0ab4" stroke-width="2.8" stroke-linejoin="round" stroke-linecap="butt"/>
<path d="M549.50,428.30 C553.33,427.92 565.57,426.55 572.50,426.00 C579.43,425.45 586.38,424.95 591.10,425.00 C595.82,425.05 597.27,425.75 600.80,426.30 C604.33,426.85 608.10,427.77 612.30,428.30 C616.50,428.83 622.32,429.23 626.00,429.50 C629.68,429.77 629.32,429.47 634.40,429.90 C639.48,430.33 651.17,431.37 656.50,432.10 C661.83,432.83 662.90,433.65 666.40,434.30 C669.90,434.95 672.35,435.35 677.50,436.00 C682.65,436.65 690.18,437.42 697.30,438.20 C704.42,438.98 712.88,439.72 720.20,440.70 C727.52,441.68 734.02,443.18 741.20,444.10 C748.38,445.02 755.42,445.32 763.30,446.20 C771.18,447.08 781.33,448.57 788.50,449.40 C795.67,450.23 803.33,450.90 806.30,451.20" fill="none" stroke="#b0141a" stroke-width="2.8" stroke-linejoin="round" stroke-linecap="butt"/>
<path d="M550.00,482.50 C552.65,483.40 559.12,485.92 565.90,487.90 C572.68,489.88 582.42,492.57 590.70,494.40 C598.98,496.23 608.05,497.87 615.60,498.90 C623.15,499.93 629.45,500.05 636.00,500.60 C642.55,501.15 649.27,502.03 654.90,502.20 C660.53,502.37 666.00,501.65 669.80,501.60 C673.60,501.55 672.73,501.68 677.70,501.90 C682.67,502.12 692.55,502.62 699.60,502.90 C706.65,503.18 713.93,503.52 720.00,503.60 C726.07,503.68 729.83,503.40 736.00,503.40 C742.17,503.40 752.28,503.70 757.00,503.60 C761.72,503.50 760.80,503.60 764.30,502.80 C767.80,502.00 773.62,499.70 778.00,498.80 C782.38,497.90 785.88,497.73 790.60,497.40 C795.32,497.07 803.68,496.90 806.30,496.80" fill="none" stroke="#000" stroke-width="2.8" stroke-linejoin="round" stroke-linecap="butt"/>
<path d="M549.00,509.80 C551.82,510.30 558.95,511.80 565.90,512.80 C572.85,513.80 582.42,515.03 590.70,515.80 C598.98,516.57 608.05,517.12 615.60,517.40 C623.15,517.68 629.45,517.63 636.00,517.50 C642.55,517.37 650.10,516.80 654.90,516.60 C659.70,516.40 661.50,516.22 664.80,516.30 C668.10,516.38 668.90,517.02 674.70,517.10 C680.50,517.18 692.05,516.95 699.60,516.80 C707.15,516.65 713.93,516.43 720.00,516.20 C726.07,515.97 731.58,515.83 736.00,515.40 C740.42,514.97 742.13,514.33 746.50,513.60 C750.87,512.87 756.95,511.53 762.20,511.00 C767.45,510.47 770.65,510.75 778.00,510.40 C785.35,510.05 801.58,509.15 806.30,508.90" fill="none" stroke="#0a0ab4" stroke-width="2.8" stroke-linejoin="round" stroke-linecap="butt"/>
<path d="M549.00,526.20 C552.65,526.37 563.95,526.93 570.90,527.20 C577.85,527.47 583.25,527.88 590.70,527.80 C598.15,527.72 608.05,527.02 615.60,526.70 C623.15,526.38 629.45,526.15 636.00,525.90 C642.55,525.65 648.45,525.55 654.90,525.20 C661.35,524.85 667.25,524.20 674.70,523.80 C682.15,523.40 692.05,523.17 699.60,522.80 C707.15,522.43 713.93,521.95 720.00,521.60 C726.07,521.25 728.97,521.17 736.00,520.70 C743.03,520.23 753.45,519.42 762.20,518.80 C770.95,518.18 781.15,517.47 788.50,517.00 C795.85,516.53 803.33,516.17 806.30,516.00" fill="none" stroke="#b0141a" stroke-width="2.8" stroke-linejoin="round" stroke-linecap="butt"/>
<rect x="548.20" y="390.50" width="258.40" height="175.20" fill="none" stroke="#000" stroke-width="3.4"/>
</g>
<text x="549.90" y="339.80" font-size="16.9" font-weight="bold" text-anchor="start" fill="#000" textLength="236.30" lengthAdjust="spacingAndGlyphs" stroke="#000" stroke-width="0.35">Efficiency vs. Input Voltage</text>
<text transform="translate(549.4,358.0) scale(1.039,1)" font-size="14.3" fill="#000" stroke="#000" stroke-width="0.15">Buck-boost mode, 4 LEDs</text>
<text transform="translate(549.4,375.8) scale(1.047,1)" font-size="14.3" fill="#000" stroke="#000" stroke-width="0.15">(V<tspan font-size="9.5" dy="3.1">LED</tspan><tspan dy="-3.1"> = 12V)</tspan></text>
<text x="534.80" y="395.40" font-size="14.4" font-weight="normal" text-anchor="end" fill="#000" textLength="16.00" lengthAdjust="spacingAndGlyphs" stroke="#000" stroke-width="0.15">94</text>
<text x="534.80" y="417.31" font-size="14.4" font-weight="normal" text-anchor="end" fill="#000" textLength="16.00" lengthAdjust="spacingAndGlyphs" stroke="#000" stroke-width="0.15">92</text>
<text x="534.80" y="439.22" font-size="14.4" font-weight="normal" text-anchor="end" fill="#000" textLength="16.00" lengthAdjust="spacingAndGlyphs" stroke="#000" stroke-width="0.15">90</text>
<text x="534.80" y="461.14" font-size="14.4" font-weight="normal" text-anchor="end" fill="#000" textLength="16.00" lengthAdjust="spacingAndGlyphs" stroke="#000" stroke-width="0.15">88</text>
<text x="534.80" y="483.05" font-size="14.4" font-weight="normal" text-anchor="end" fill="#000" textLength="16.00" lengthAdjust="spacingAndGlyphs" stroke="#000" stroke-width="0.15">86</text>
<text x="534.80" y="504.96" font-size="14.4" font-weight="normal" text-anchor="end" fill="#000" textLength="16.00" lengthAdjust="spacingAndGlyphs" stroke="#000" stroke-width="0.15">84</text>
<text x="534.80" y="526.88" font-size="14.4" font-weight="normal" text-anchor="end" fill="#000" textLength="16.00" lengthAdjust="spacingAndGlyphs" stroke="#000" stroke-width="0.15">82</text>
<text x="534.80" y="548.79" font-size="14.4" font-weight="normal" text-anchor="end" fill="#000" textLength="16.00" lengthAdjust="spacingAndGlyphs" stroke="#000" stroke-width="0.15">80</text>
<text x="534.80" y="570.70" font-size="14.4" font-weight="normal" text-anchor="end" fill="#000" textLength="16.00" lengthAdjust="spacingAndGlyphs" stroke="#000" stroke-width="0.15">78</text>
<text x="820.30" y="395.20" font-size="14.4" font-weight="normal" text-anchor="start" fill="#000" textLength="19.80" lengthAdjust="spacingAndGlyphs" stroke="#000" stroke-width="0.15">4.0</text>
<text x="820.30" y="417.13" font-size="14.4" font-weight="normal" text-anchor="start" fill="#000" textLength="19.80" lengthAdjust="spacingAndGlyphs" stroke="#000" stroke-width="0.15">3.5</text>
<text x="820.30" y="439.06" font-size="14.4" font-weight="normal" text-anchor="start" fill="#000" textLength="19.80" lengthAdjust="spacingAndGlyphs" stroke="#000" stroke-width="0.15">3.0</text>
<text x="820.30" y="460.99" font-size="14.4" font-weight="normal" text-anchor="start" fill="#000" textLength="19.80" lengthAdjust="spacingAndGlyphs" stroke="#000" stroke-width="0.15">2.5</text>
<text x="820.30" y="482.92" font-size="14.4" font-weight="normal" text-anchor="start" fill="#000" textLength="19.80" lengthAdjust="spacingAndGlyphs" stroke="#000" stroke-width="0.15">2.0</text>
<text x="820.30" y="504.85" font-size="14.4" font-weight="normal" text-anchor="start" fill="#000" textLength="19.80" lengthAdjust="spacingAndGlyphs" stroke="#000" stroke-width="0.15">1.5</text>
<text x="820.30" y="526.78" font-size="14.4" font-weight="normal" text-anchor="start" fill="#000" textLength="19.80" lengthAdjust="spacingAndGlyphs" stroke="#000" stroke-width="0.15">1.0</text>
<text x="820.30" y="548.71" font-size="14.4" font-weight="normal" text-anchor="start" fill="#000" textLength="19.80" lengthAdjust="spacingAndGlyphs" stroke="#000" stroke-width="0.15">0.5</text>
<text x="820.30" y="570.64" font-size="14.4" font-weight="normal" text-anchor="start" fill="#000" textLength="19.80" lengthAdjust="spacingAndGlyphs" stroke="#000" stroke-width="0.15">0.0</text>
<text x="548.20" y="588.90" font-size="14.4" font-weight="normal" text-anchor="middle" fill="#000" textLength="8.00" lengthAdjust="spacingAndGlyphs" stroke="#000" stroke-width="0.15">8</text>
<text x="591.22" y="588.90" font-size="14.4" font-weight="normal" text-anchor="middle" fill="#000" textLength="15.90" lengthAdjust="spacingAndGlyphs" stroke="#000" stroke-width="0.15">10</text>
<text x="634.23" y="588.90" font-size="14.4" font-weight="normal" text-anchor="middle" fill="#000" textLength="15.90" lengthAdjust="spacingAndGlyphs" stroke="#000" stroke-width="0.15">12</text>
<text x="677.25" y="588.90" font-size="14.4" font-weight="normal" text-anchor="middle" fill="#000" textLength="15.90" lengthAdjust="spacingAndGlyphs" stroke="#000" stroke-width="0.15">14</text>
<text x="720.27" y="588.90" font-size="14.4" font-weight="normal" text-anchor="middle" fill="#000" textLength="15.90" lengthAdjust="spacingAndGlyphs" stroke="#000" stroke-width="0.15">16</text>
<text x="763.28" y="588.90" font-size="14.4" font-weight="normal" text-anchor="middle" fill="#000" textLength="15.90" lengthAdjust="spacingAndGlyphs" stroke="#000" stroke-width="0.15">18</text>
<text x="806.30" y="588.90" font-size="14.4" font-weight="normal" text-anchor="middle" fill="#000" textLength="15.90" lengthAdjust="spacingAndGlyphs" stroke="#000" stroke-width="0.15">20</text>
<text x="611.60" y="607.70" font-size="14.2" font-weight="bold" text-anchor="start" fill="#000" textLength="143.50" lengthAdjust="spacingAndGlyphs" stroke="#000" stroke-width="0.35">INPUT VOLTAGE (V)</text>
<text transform="translate(508.40,533.30) rotate(-90)" font-size="14.6" font-weight="bold" fill="#000" stroke="#000" stroke-width="0.35" textLength="114.40" lengthAdjust="spacingAndGlyphs">EFFICIENCY (%)</text>
<text transform="translate(858.30,541.50) rotate(-90)" font-size="14.6" font-weight="bold" fill="#000" stroke="#000" stroke-width="0.35" textLength="128.60" lengthAdjust="spacingAndGlyphs">POWER LOSS (W)</text>
<text x="642.00" y="456.60" font-size="13.2" font-weight="normal" text-anchor="start" fill="#000" textLength="71.00" lengthAdjust="spacingAndGlyphs" stroke="#000" stroke-width="0.15">ILED = 1.2A</text>
<text x="642.00" y="471.90" font-size="13.2" font-weight="normal" text-anchor="start" fill="#000" textLength="71.00" lengthAdjust="spacingAndGlyphs" stroke="#000" stroke-width="0.15">ILED = 1.0A</text>
<text x="642.00" y="487.20" font-size="13.2" font-weight="normal" text-anchor="start" fill="#000" textLength="78.60" lengthAdjust="spacingAndGlyphs" stroke="#000" stroke-width="0.15">ILED = 0.75A</text>
<polyline points="605.20,452.90 638.20,452.90" fill="none" stroke="#000" stroke-width="2.6"/>
<polyline points="605.40,467.60 638.30,467.60" fill="none" stroke="#0a0ab4" stroke-width="2.6"/>
<polyline points="605.40,482.80 638.30,482.80" fill="none" stroke="#b0141a" stroke-width="2.6"/>
<text x="728.00" y="407.70" font-size="14.0" font-weight="normal" text-anchor="start" fill="#000" textLength="56.70" lengthAdjust="spacingAndGlyphs" stroke="#000" stroke-width="0.15">Efficiency</text>
<text x="720.60" y="558.50" font-size="14.0" font-weight="normal" text-anchor="start" fill="#000" textLength="72.00" lengthAdjust="spacingAndGlyphs" stroke="#000" stroke-width="0.15">Power_Loss</text>
</svg>
</body></html>
